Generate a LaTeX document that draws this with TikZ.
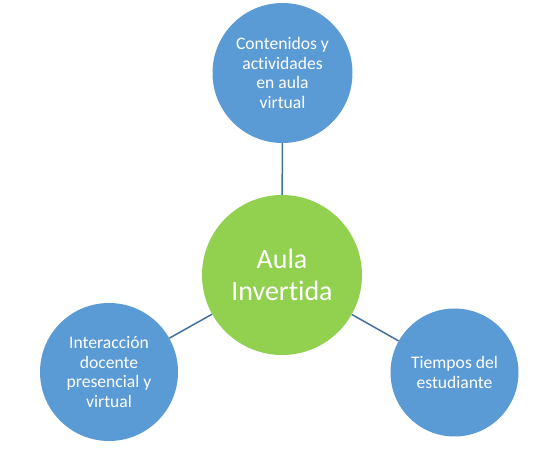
\documentclass[tikz,border=0pt]{standalone}
\usepackage{fontspec}
\setmainfont{Carlito}[Ligatures=NoCommon]
\definecolor{cblue}{HTML}{5B9BD5}
\definecolor{cgreen}{HTML}{92D050}
\definecolor{cline}{HTML}{41719C}
\begin{document}
\begin{tikzpicture}[x=1pt,y=-1pt,
  outer/.style={circle,fill=cblue,text=white,inner sep=0pt,align=center,
    font=\fontsize{17.6}{19.4}\selectfont},
  hub/.style={circle,fill=cgreen,text=white,inner sep=0pt,align=center,
    minimum size=160pt,font=\fontsize{28}{32}\selectfont},
  link/.style={draw=cline,line width=1.5pt}]
\useasboundingbox (0,0) rectangle (558,465);
\node[hub] (c) at (282,275) {Aula\\Invertida};
\node[outer,minimum size=140pt] (t) at (282.5,73) {Contenidos y\\actividades\\en aula\\virtual};
\node[outer,minimum size=138pt] (l) at (109,372) {Interacción\\docente\\presencial y\\virtual};
\node[outer,minimum size=128pt] (r) at (454.5,372.5) {Tiempos del\\estudiante};
\draw[link] (t) -- (c);
\draw[link] (l) -- (c);
\draw[link] (r) -- (c);
\end{tikzpicture}
\end{document}
